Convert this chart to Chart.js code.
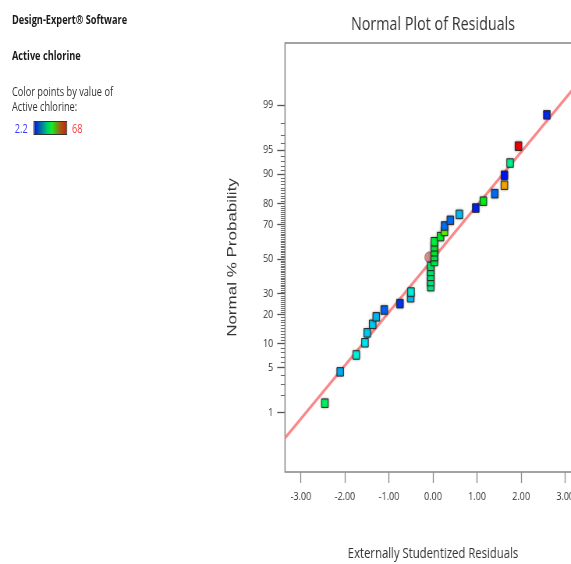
<!DOCTYPE html>
<html>
<head>
<meta charset="utf-8">
<script src="https://cdn.jsdelivr.net/npm/chart.js@4.4.1/dist/chart.umd.min.js"></script>
<style>
  html, body { margin:0; padding:0; background:#fff; overflow:hidden; width:571px; height:564px; }
  /* the reference is squeezed horizontally, so the whole page is drawn wider and scaled */
  #wrap { position:absolute; left:0; top:0; width:800px; height:564px; transform:scaleX(0.78); transform-origin:0 0; }
  #grafico { position:absolute; left:0; top:0; }
  .info { position:absolute; left:15.4px; font-family:'Open Sans', sans-serif; font-size:11.8px; line-height:11.8px; color:#333; white-space:nowrap; }
  .info.bold { font-weight:bold; color:#1a1a1a; }
  #leyMin { position:absolute; left:19px; top:122.5px; font-family:'Open Sans', sans-serif; font-size:11.8px; line-height:11.8px; color:#3c3cff; }
  #leyMax { position:absolute; left:92.3px; top:122.5px; font-family:'Open Sans', sans-serif; font-size:11.8px; line-height:11.8px; color:#ff3c3c; }
  #leyBarra { position:absolute; left:42.7px; top:120.7px; width:41px; height:12px; border:1px solid #333;
              background:linear-gradient(to right, #0018e0 0%, #00c870 40%, #10f020 55%, #a06010 80%, #d02010 100%); }
</style>
</head>
<body>
<div id="wrap">
  <div class="info bold" style="top:13.5px">Design-Expert® Software</div>
  <div class="info bold" style="top:49.5px">Active chlorine</div>
  <div class="info" style="top:86px">Color points by value of</div>
  <div class="info" style="top:101px">Active chlorine:</div>
  <div id="leyMin">2.2</div>
  <div id="leyBarra"></div>
  <div id="leyMax">68</div>
  <canvas id="grafico" width="800" height="564"></canvas>
</div>
<script>
// ---------------- datos ----------------
const residuales = [-2.455, -2.107, -1.743, -1.545, -1.493, -1.370, -1.289, -1.107, -0.750, -0.507, -0.500,
                    -0.052, -0.052, -0.052, -0.052, -0.052, 0.030, 0.030, 0.030, 0.030, 0.030,
                    0.170, 0.260, 0.262, 0.393, 0.598, 0.970, 1.143, 1.402, 1.620, 1.622, 1.750, 1.939, 2.584];
const probabilidad = [1.47, 4.41, 7.35, 10.29, 13.24, 16.18, 19.12, 22.06, 25.0, 27.94, 30.88,
                      33.82, 36.76, 39.71, 42.65, 45.59, 48.53, 51.47, 54.41, 57.35, 60.29,
                      63.24, 66.18, 69.12, 72.06, 75.0, 77.94, 80.88, 83.82, 86.76, 89.71, 92.65, 95.59, 98.53];
const cloroActivo = [28.5, 14.0, 20.0, 18.0, 16.0, 16.0, 14.7, 9.0, 5.8, 15.0, 20.0,
                     26, 26, 27, 27, 28, 30, 30, 31, 31, 31,
                     32.5, 41.7, 9.8, 9.5, 15.1, 4.4, 33.8, 9.5, 56.7, 3.5, 25.2, 68, 4.8];
const cloroMin = 2.2, cloroMax = 68;

const lineaX = [-3.5, 3.5];
const lineaP = [0.242, 99.764];
const centroX = [-0.09];
const centroP = [51];

const ticksX = [-3, -2, -1, 0, 1, 2, 3];
const ticksMayores = [1, 5, 10, 20, 30, 50, 70, 80, 90, 95, 99];
const ticksY = [];
for (let p = 1; p <= 99; p++) ticksY.push(p);

// ---------------- escala de probabilidad normal ----------------
let probit = (p)=>{
   const a = [-3.969683028665376e+01, 2.209460984245205e+02, -2.759285104469687e+02, 1.383577518672690e+02, -3.066479806614716e+01, 2.506628277459239e+00];
   const b = [-5.447609879822406e+01, 1.615858368580409e+02, -1.556989798598866e+02, 6.680131188771972e+01, -1.328068155288572e+01];
   const c = [-7.784894002430293e-03, -3.223964580411365e-01, -2.400758277161838e+00, -2.549732539343734e+00, 4.374664141464968e+00, 2.938163982698783e+00];
   const d = [7.784695709041462e-03, 3.224671290700398e-01, 2.445134137142996e+00, 3.754408661907416e+00];
   const pl = 0.02425;
   let q, r;
   if (p < pl) {
      q = Math.sqrt(-2 * Math.log(p));
      return (((((c[0]*q+c[1])*q+c[2])*q+c[3])*q+c[4])*q+c[5]) / ((((d[0]*q+d[1])*q+d[2])*q+d[3])*q+1);
   }
   if (p > 1 - pl) {
      q = Math.sqrt(-2 * Math.log(1 - p));
      return -(((((c[0]*q+c[1])*q+c[2])*q+c[3])*q+c[4])*q+c[5]) / ((((d[0]*q+d[1])*q+d[2])*q+d[3])*q+1);
   }
   q = p - 0.5; r = q * q;
   return (((((a[0]*r+a[1])*r+a[2])*r+a[3])*r+a[4])*r+a[5])*q / (((((b[0]*r+b[1])*r+b[2])*r+b[3])*r+b[4])*r+1);
};
let normCdf = (z)=>{
   const t = 1 / (1 + 0.3275911 * Math.abs(z) / Math.SQRT2);
   const e = 1 - (((((1.061405429*t - 1.453152027)*t) + 1.421413741)*t - 0.284496736)*t + 0.254829592)*t * Math.exp(-z*z/2);
   return z >= 0 ? (1 + e) / 2 : (1 - e) / 2;
};

class ProbabilidadScale extends Chart.Scale {
   determineDataLimits() {
      this.min = this.options.min;
      this.max = this.options.max;
   }
   buildTicks() {
      return ticksY.map(v => ({ value: v, major: ticksMayores.includes(v) }));
   }
   getLabelForValue(v) { return String(v); }
   configure() {
      super.configure();
      this._zMin = probit(this.min / 100);
      this._zRango = probit(this.max / 100) - this._zMin;
   }
   getPixelForValue(v) {
      if (v === null || v === undefined || isNaN(v)) return NaN;
      return this.getPixelForDecimal((probit(v / 100) - this._zMin) / this._zRango);
   }
   getValueForPixel(px) {
      return 100 * normCdf(this._zMin + this.getDecimalForPixel(px) * this._zRango);
   }
}
ProbabilidadScale.id = 'probabilidad';
ProbabilidadScale.defaults = {};
Chart.register(ProbabilidadScale);

// color segun el valor de cloro activo (azul -> rojo)
let colorCloro = (v)=>{
   const t = (v - cloroMin) / (cloroMax - cloroMin);
   return 'hsl(' + (240 * (1 - t)).toFixed(1) + ',100%,48%)';
};

// ---------------- plugins: marco, ticks menores, sombra ----------------
const marco = {
   id: 'marco',
   beforeDatasetsDraw(chart) {
      const {ctx, chartArea: a} = chart;
      ctx.save();
      ctx.strokeStyle = '#8c8c8c';
      ctx.lineWidth = 1.6;
      ctx.strokeRect(a.left, a.top, a.right - a.left, a.bottom - a.top);
      ctx.restore();
   },
   afterDraw(chart) {
      const {ctx, chartArea: a} = chart;
      const escala = chart.scales.y;
      ctx.save();
      ctx.strokeStyle = '#6e6e6e';
      ctx.lineWidth = 1;
      ctx.beginPath();
      escala.ticks.forEach(t => {
         if (t.major) return;
         const y = Math.round(escala.getPixelForValue(t.value)) + 0.5;
         ctx.moveTo(a.left - 5.5, y);
         ctx.lineTo(a.left, y);
      });
      ctx.stroke();
      ctx.restore();
   },
   beforeDatasetDraw(chart, args) {
      if (args.index !== 0) return;
      chart.ctx.save();
      chart.ctx.shadowColor = 'rgba(0,0,0,0.35)';
      chart.ctx.shadowBlur = 3;
   },
   afterDatasetDraw(chart, args) {
      if (args.index !== 0) return;
      chart.ctx.restore();
   }
};

const fuente = "'Open Sans', sans-serif";

new Chart(document.getElementById('grafico').getContext('2d'), {
   type: 'scatter',
   data: {
      datasets: [{
         data: residuales.map((r, i) => ({ x: r, y: probabilidad[i] })),
         pointStyle: 'rect',
         pointRadius: 6,
         backgroundColor: cloroActivo.map(colorCloro),
         borderColor: '#2a2a2a',
         borderWidth: 1,
         order: 0
      }, {
         data: centroX.map((r, i) => ({ x: r, y: centroP[i] })),
         pointStyle: 'circle',
         pointRadius: 5.5,
         backgroundColor: 'rgba(200,125,115,0.85)',
         borderColor: 'rgba(140,70,70,0.6)',
         borderWidth: 1,
         order: 1
      }, {
         data: lineaX.map((r, i) => ({ x: r, y: lineaP[i] })),
         showLine: true,
         pointRadius: 0,
         borderColor: 'rgb(250,138,138)',
         borderWidth: 3,
         order: 2
      }]
   },
   options: {
      responsive: false,
      animation: false,
      events: [],
      layout: { padding: { left: 284.5, right: 55.1, top: 0, bottom: 0 } },
      plugins: {
         legend: { display: false },
         tooltip: { enabled: false },
         title: {
            display: true,
            text: 'Normal Plot of Residuals',
            fullSize: false,
            color: '#333',
            font: { family: fuente, size: 18.4, weight: 'normal', lineHeight: 1.2 },
            padding: { top: 13.96, bottom: 6.96 }
         }
      },
      scales: {
         x: {
            type: 'linear',
            position: 'bottom',
            min: -3.36,
            max: 3.36,
            afterFit: s => { s.height = 92; },
            afterBuildTicks: s => { s.ticks = ticksX.map(v => ({ value: v })); },
            border: { display: false },
            grid: { drawOnChartArea: false, tickLength: 11, tickColor: '#8a8a8a', tickWidth: 1.3 },
            ticks: { padding: 7, color: '#333', autoSkip: false, maxRotation: 0,
                     font: { family: fuente, size: 11.5 }, callback: v => Number(v).toFixed(2) },
            title: { display: true, text: 'Externally Studentized Residuals', color: '#333',
                     font: { family: fuente, size: 14.5 }, padding: { top: 4, bottom: 1 } }
         },
         y: {
            type: 'probabilidad',
            position: 'left',
            min: 0.0646,
            max: 99.945,
            afterFit: s => { s.width = 80.9; },
            border: { display: false },
            grid: { drawOnChartArea: false, tickLength: 10, tickWidth: 1.3,
                    tickColor: c => (c.tick && c.tick.major) ? '#555' : 'rgba(0,0,0,0)' },
            ticks: { padding: 5, color: '#333', autoSkip: false,
                     font: { family: fuente, size: 11.5 },
                     callback: (v, i, t) => t[i].major ? String(v) : '' },
            title: { display: true, text: 'Normal % Probability', color: '#333',
                     font: { family: "'Liberation Sans', Arial, sans-serif", size: 17 }, padding: { top: 4, bottom: 4 } }
         }
      }
   },
   plugins: [marco]
});
</script>
</body>
</html>
